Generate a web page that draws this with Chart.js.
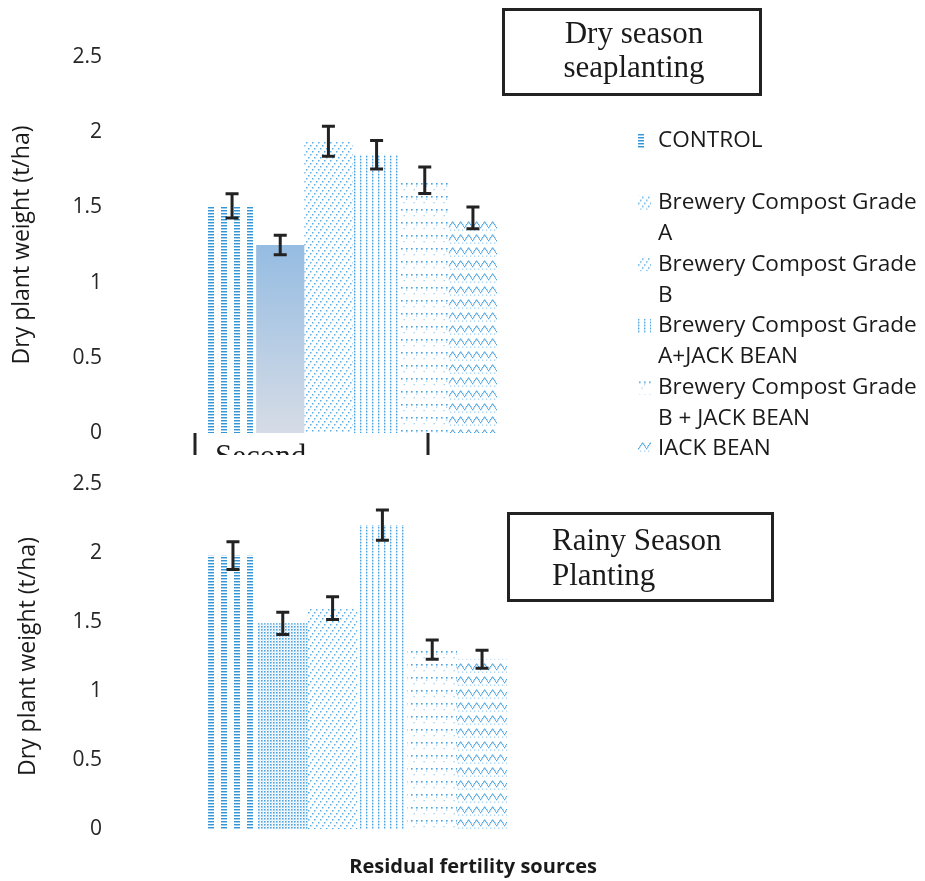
<!DOCTYPE html>
<html>
<head>
<meta charset="utf-8">
<script src="https://cdn.jsdelivr.net/npm/chart.js@4.4.1/dist/chart.umd.min.js"></script>
<style>
  html, body { margin: 0; padding: 0; background: #fff; }
  #wrap { position: relative; width: 925px; height: 881px; overflow: hidden; }
  .panel { position: absolute; left: 0; width: 925px; }
  #top { top: 0; height: 455px; }
  #bottom { top: 455px; height: 426px; }
</style>
</head>
<body>
<div id="wrap">
  <div class="panel" id="top"><canvas id="dry-chart"></canvas></div>
  <div class="panel" id="bottom"><canvas id="rainy-chart"></canvas></div>
</div>
<script>
/** DATA **/
var categories = [''];
var seriesNames = ['CONTROL', 'Brewery Compost Grade A', 'Brewery Compost Grade B',
  'Brewery Compost Grade A+JACK BEAN', 'Brewery Compost Grade B + JACK BEAN', 'JACK BEAN'];
var legendLines = [['CONTROL'], ['Brewery Compost Grade', 'A'], ['Brewery Compost Grade', 'B'],
  ['Brewery Compost Grade', 'A+JACK BEAN'], ['Brewery Compost Grade', 'B + JACK BEAN'], ['JACK BEAN']];
var dryValues = [1.51, 1.25, 1.94, 1.85, 1.68, 1.43];
var dryErrors = [0.08, 0.065, 0.10, 0.095, 0.088, 0.072];
var rainyValues = [1.98, 1.49, 1.60, 2.20, 1.30, 1.23];
var rainyErrors = [0.10, 0.08, 0.083, 0.11, 0.07, 0.065];
var yMin = 0, yMax = 2.5, yStep = 0.5;

Chart.defaults.font.family = '"Open Sans", sans-serif';

/** PATTERNS **/
var BLUE = '#3596d6';
var LIGHT = '#a3cfee';

function makePattern(w, h, draw) {
    var c = document.createElement('canvas');
    c.width = w; c.height = h;
    var g = c.getContext('2d');
    draw(g);
    return g.createPattern(c, 'repeat');
}

function dots(g, color, pts, s) {
    g.fillStyle = color;
    pts.forEach(function (p) { g.fillRect(p[0], p[1], s, s); });
}

var patDash = makePattern(13, 3, function (g) {
    g.fillStyle = BLUE; g.fillRect(0, 0, 6, 1);
    g.fillStyle = LIGHT; g.fillRect(0, 1, 6, 1);
});
var patDiag = makePattern(6, 9, function (g) {
    dots(g, '#5aaee3', [[0, 7], [2, 4], [4, 1]], 1.5);
});
var patVdots = makePattern(6, 3, function (g) {
    dots(g, '#4aa2de', [[0, 0]], 1.4);
    dots(g, LIGHT, [[0, 1.4]], 1.2);
});
var patSparse = makePattern(10, 13, function (g) {
    dots(g, '#4aa2de', [[1, 1], [6, 1]], 1.6);
    dots(g, LIGHT, [[6, 3.5], [3.5, 7]], 1.3);
});
var patZig = makePattern(8, 13, function (g) {
    dots(g, '#4aa2de', [[0, 6], [1, 4.5], [2, 3], [3, 1.5], [4, 0.5], [5, 1.5], [6, 3], [7, 4.5]], 1.3);
    dots(g, LIGHT, [[2, 8.5], [6, 8.5]], 1.3);
});
var patDense = makePattern(3, 3, function (g) {
    dots(g, '#4aa2de', [[0, 0]], 1.6);
    dots(g, LIGHT, [[1.5, 1.6]], 1);
});

function gradientFill(context) {
    var chart = context.chart;
    if (!chart.chartArea) return '#a8c6e4';
    var y = chart.scales.y;
    var g = chart.ctx.createLinearGradient(0, y.getPixelForValue(context.raw), 0, y.getPixelForValue(0));
    g.addColorStop(0, '#95bce2');
    g.addColorStop(1, '#d6dce6');
    return g;
}

function buildDatasets(values, fills, legendFills) {
    return seriesNames.map(function (name, i) {
        return {
            label: name,
            data: [values[i]],
            backgroundColor: fills[i],
            legendFill: legendFills[i],
            borderWidth: 0
        };
    });
}

/** PLUGINS **/
var errorBars = {
    id: 'errorBars',
    afterDatasetsDraw: function (chart, args, opts) {
        var ctx = chart.ctx, y = chart.scales.y;
        ctx.save();
        ctx.strokeStyle = '#222';
        ctx.lineWidth = 3;
        chart.data.datasets.forEach(function (ds, i) {
            var bar = chart.getDatasetMeta(i).data[0];
            var v = ds.data[0], e = opts.errors[i];
            var y1 = y.getPixelForValue(v + e), y2 = y.getPixelForValue(v - e);
            ctx.beginPath();
            ctx.moveTo(bar.x, y1); ctx.lineTo(bar.x, y2);
            ctx.moveTo(bar.x - 6.5, y1); ctx.lineTo(bar.x + 6.5, y1);
            ctx.moveTo(bar.x - 6.5, y2); ctx.lineTo(bar.x + 6.5, y2);
            ctx.stroke();
        });
        ctx.restore();
    }
};

var sideLegend = {
    id: 'sideLegend',
    afterDraw: function (chart, args, opts) {
        if (!opts.show) return;
        var ctx = chart.ctx;
        ctx.save();
        ctx.font = '22.6px "Open Sans"';
        ctx.textBaseline = 'middle';
        chart.data.datasets.forEach(function (ds, i) {
            var y0 = opts.top + i * opts.itemGap;
            ctx.save();
            ctx.translate(opts.x, y0 - 7);
            ctx.fillStyle = ds.legendFill;
            ctx.fillRect(0, 0, 13, 14);
            ctx.restore();
            ctx.fillStyle = '#1a1a1a';
            legendLines[i].forEach(function (t, k) {
                ctx.fillText(t, opts.x + 20, y0 + k * opts.lineGap);
            });
        });
        ctx.restore();
    }
};

var textBoxes = {
    id: 'textBoxes',
    afterDraw: function (chart, args, opts) {
        var ctx = chart.ctx;
        ctx.save();
        (opts.boxes || []).forEach(function (b) {
            ctx.strokeStyle = '#222';
            ctx.lineWidth = 3;
            if (b.rect) ctx.strokeRect(b.rect[0], b.rect[1], b.rect[2], b.rect[3]);
            (b.marks || []).forEach(function (m) {
                ctx.beginPath(); ctx.moveTo(m[0], m[1]); ctx.lineTo(m[0], m[2]); ctx.stroke();
            });
            ctx.font = '31px "Liberation Serif", "Times New Roman", serif';
            ctx.fillStyle = '#1a1a1a';
            ctx.textAlign = b.align;
            ctx.textBaseline = 'alphabetic';
            b.lines.forEach(function (t, k) { ctx.fillText(t, b.x, b.baselines[k]); });
        });
        ctx.restore();
    }
};

function yAxis(width, tickPad, titlePad) {
    return {
        min: yMin, max: yMax,
        ticks: {
            stepSize: yStep, padding: tickPad, color: '#262626', font: { size: 21 },
            callback: function (v) { return String(v); }
        },
        grid: { display: false, drawTicks: false },
        border: { display: false },
        title: { display: true, text: 'Dry plant weight (t/ha)', color: '#1a1a1a', font: { size: 23 },
                 padding: { top: titlePad, bottom: 0 } },
        afterFit: function (s) { s.width = width; }
    };
}

/** DRY SEASON CHART **/
var dryChart = new Chart(document.getElementById('dry-chart'), {
    type: 'bar',
    data: {
        labels: categories,
        datasets: buildDatasets(dryValues,
            [patDash, gradientFill, patDiag, patVdots, patSparse, patZig],
            [patDash, patDiag, patDiag, patVdots, patSparse, patZig])
    },
    options: {
        responsive: true,
        maintainAspectRatio: false,
        animation: false,
        layout: { padding: { left: 0, right: 330, top: 57, bottom: 22 } },
        datasets: { bar: { barPercentage: 1, categoryPercentage: 0.596 } },
        scales: {
            x: { display: false },
            y: yAxis(110, 8, 9)
        },
        plugins: {
            legend: { display: false },
            tooltip: { enabled: false },
            errorBars: { errors: dryErrors },
            sideLegend: { show: true, x: 638, top: 141, itemGap: 61.6, lineGap: 31 },
            textBoxes: {
                boxes: [
                    { rect: [503.5, 9.5, 257, 85], lines: ['Dry season', 'seaplanting'],
                      align: 'center', x: 634, baselines: [43, 77] },
                    { marks: [[195, 433, 456], [428, 433, 456]], lines: ['Second'],
                      align: 'left', x: 215, baselines: [466] }
                ]
            }
        }
    },
    plugins: [errorBars, sideLegend, textBoxes]
});

/** RAINY SEASON CHART **/
var rainyChart = new Chart(document.getElementById('rainy-chart'), {
    type: 'bar',
    data: {
        labels: categories,
        datasets: buildDatasets(rainyValues,
            [patDash, patDense, patDiag, patVdots, patSparse, patZig],
            [patDash, patDense, patDiag, patVdots, patSparse, patZig])
    },
    options: {
        responsive: true,
        maintainAspectRatio: false,
        animation: false,
        layout: { padding: { left: 0, right: 328, top: 15, bottom: 0 } },
        datasets: { bar: { barPercentage: 1, categoryPercentage: 0.624 } },
        scales: {
            x: {
                grid: { display: false, drawTicks: false },
                border: { display: false },
                ticks: { display: false },
                title: { display: true, text: 'Residual fertility sources', align: 'end', color: '#1a1a1a',
                         font: { size: 20, weight: 'bold' }, padding: { top: 25.5, bottom: 2 } }
            },
            y: yAxis(118, 16, 15)
        },
        plugins: {
            legend: { display: false },
            tooltip: { enabled: false },
            errorBars: { errors: rainyErrors },
            sideLegend: { show: false },
            textBoxes: {
                boxes: [
                    { rect: [508.5, 58.5, 264, 87], lines: ['Rainy Season', 'Planting'],
                      align: 'left', x: 552, baselines: [95, 130] }
                ]
            }
        }
    },
    plugins: [errorBars, sideLegend, textBoxes]
});
</script>
</body>
</html>
